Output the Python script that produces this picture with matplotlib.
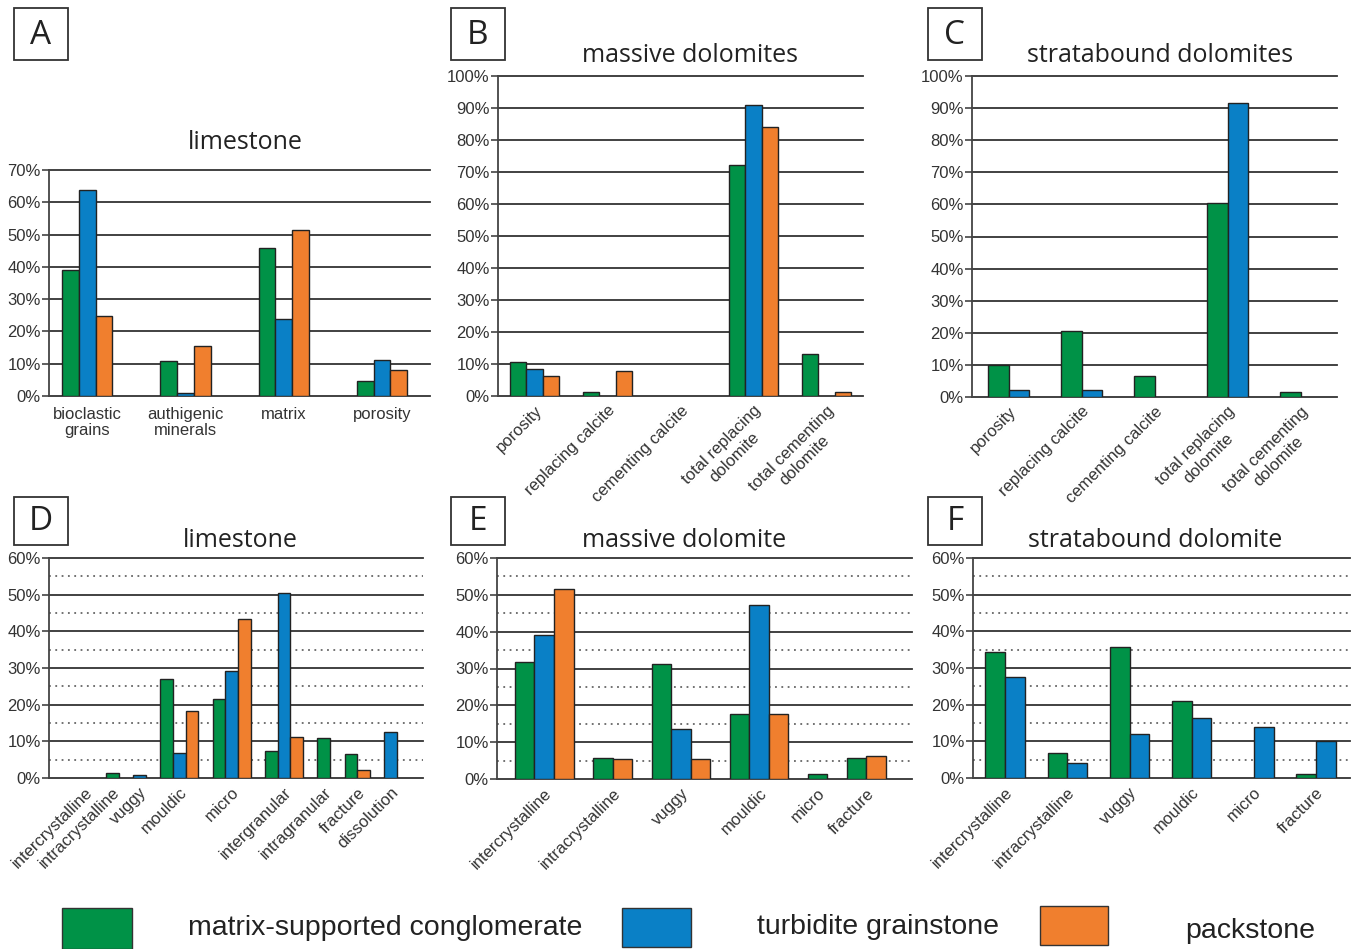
import numpy as np
import matplotlib.pyplot as plt
from matplotlib.patches import Rectangle

plt.rcParams['font.family'] = ['Liberation Sans', 'DejaVu Sans']

FIG_W, FIG_H = 1359, 949

series_names = ['matrix-supported conglomerate', 'turbidite grainstone', 'packstone']
colors = ['#009247', '#0a80c6', '#f07f2e']

# A - limestone composition
a_labels = ['bioclastic\ngrains', 'authigenic\nminerals', 'matrix', 'porosity']
a_matrix = [39, 10.7, 45.7, 4.6]
a_turbidite = [63.9, 1, 23.9, 11.3]
a_packstone = [24.7, 15.5, 51.3, 7.9]

# B - massive dolomites composition
b_labels = ['porosity', 'replacing calcite', 'cementing calcite',
            'total replacing\ndolomite', 'total cementing\ndolomite']
b_matrix = [10.7, 1.2, 0, 72.1, 13.1]
b_turbidite = [8.3, 0, 0, 90.8, 0]
b_packstone = [6.2, 7.8, 0, 84.1, 1.2]

# C - stratabound dolomites composition
c_labels = b_labels
c_matrix = [10.1, 20.5, 6.5, 60.5, 1.5]
c_turbidite = [2.1, 2.3, 0, 91.7, 0]

# D - limestone pore types
d_labels = ['intercrystalline', 'intracrystalline', 'vuggy', 'mouldic', 'micro',
            'intergranular', 'intragranular', 'fracture', 'dissolution']
d_matrix = [0, 1.3, 0, 26.9, 21.5, 7.5, 10.9, 6.6, 0]
d_turbidite = [0, 0, 0.7, 6.9, 29.3, 50.5, 0, 0, 12.5]
d_packstone = [0, 0, 0, 18.3, 43.3, 11.1, 0, 2.3, 0]

# E - massive dolomite pore types
e_labels = ['intercrystalline', 'intracrystalline', 'vuggy', 'mouldic', 'micro', 'fracture']
e_matrix = [31.7, 5.6, 31.3, 17.6, 1.4, 5.7]
e_turbidite = [39.1, 0, 13.6, 47.2, 0, 0]
e_packstone = [51.5, 5.3, 5.5, 17.6, 0, 6.3]

# F - stratabound dolomite pore types
f_labels = e_labels
f_matrix = [34.5, 6.9, 35.8, 20.9, 0, 1.2]
f_turbidite = [27.5, 4.0, 12.0, 16.3, 13.8, 10.2]

fig = plt.figure(figsize=(FIG_W / 100, FIG_H / 100), dpi=100)


def px_axes(left, top, right, bottom):
    return fig.add_axes([left / FIG_W, 1 - bottom / FIG_H,
                         (right - left) / FIG_W, (bottom - top) / FIG_H])


def style_axes(ax, ymax, dotted=False):
    ax.set_facecolor('none')
    ax.set_ylim(0, ymax)
    for s in ['top', 'right', 'bottom']:
        ax.spines[s].set_visible(False)
    ax.spines['left'].set_color('#444')
    ax.spines['left'].set_linewidth(1.3)
    ticks = np.arange(0, ymax + 1, 10)
    ax.set_yticks(ticks)
    ax.set_yticklabels([f'{t:.0f}%' for t in ticks])
    ax.tick_params(axis='y', length=5, width=1.2, color='#444', labelsize=12,
                   pad=1, labelcolor='#333')
    ax.tick_params(axis='x', length=0, labelsize=12, labelcolor='#333')
    for t in ticks:
        ax.axhline(t, color='#333', lw=1.3, zorder=0.5, clip_on=False)
    if dotted:
        for t in np.arange(5, ymax, 10):
            ax.axhline(t, color='#666', lw=1.3, ls=(0, (1, 2.5)), zorder=0.5)


def grouped_bars(ax, values, width):
    x = np.arange(len(values[0]))
    m = len(values)
    for k, vals in enumerate(values):
        vals = np.asarray(vals, dtype=float)
        keep = vals > 0
        ax.bar(x[keep] + (k - (m - 1) / 2) * width, vals[keep], width,
               color=colors[k], edgecolor='#222', lw=1, zorder=2)
    return x


def packed_bars(ax, values, gap):
    # empty series are left out, so every group only takes room for its own bars
    vals = np.asarray(values, dtype=float)
    centers = []
    pos = 0.0
    for j in range(vals.shape[1]):
        present = [k for k in range(len(vals)) if vals[k, j] > 0]
        for i, k in enumerate(present):
            ax.bar(pos + i + 0.5, vals[k, j], 1.0, color=colors[k],
                   edgecolor='#222', lw=1, zorder=2)
        n = max(len(present), 1)
        centers.append(pos + n / 2)
        pos += n + gap
    return np.array(centers), pos - gap


def rotated_labels(ax, x, labels):
    ax.set_xticks(x)
    ax.set_xticklabels(labels, rotation=45, ha='right', va='top',
                       rotation_mode='anchor', multialignment='center')
    ax.tick_params(axis='x', pad=5)


# A
ax = px_axes(49, 170, 430, 396)
style_axes(ax, 70)
x = grouped_bars(ax, [a_matrix, a_turbidite, a_packstone], 0.17)
ax.set_xlim(-0.39, 3.49)
ax.set_xticks(x)
ax.set_xticklabels(a_labels, linespacing=1.05)
ax.tick_params(axis='x', pad=8)

# B
ax = px_axes(498, 76, 863, 396)
style_axes(ax, 100)
x = grouped_bars(ax, [b_matrix, b_turbidite, b_packstone], 0.22)
ax.set_xlim(-0.5, 4.5)
rotated_labels(ax, x, b_labels)

# C
ax = px_axes(972, 76, 1337, 397)
style_axes(ax, 100)
x = grouped_bars(ax, [c_matrix, c_turbidite], 0.28)
ax.set_xlim(-0.5, 4.5)
rotated_labels(ax, x, c_labels)

# D
ax = px_axes(49, 558, 423, 778)
style_axes(ax, 60, dotted=True)
x, end = packed_bars(ax, [d_matrix, d_turbidite, d_packstone], 1.13)
ax.set_xlim(-2.36, end + 2.05)
rotated_labels(ax, x, d_labels)

# E
ax = px_axes(497, 558, 912, 779)
style_axes(ax, 60, dotted=True)
x, end = packed_bars(ax, [e_matrix, e_turbidite, e_packstone], 1.0)
ax.set_xlim(-0.92, end + 1.33)
rotated_labels(ax, x, e_labels)

# F
ax = px_axes(973, 558, 1350, 778)
style_axes(ax, 60, dotted=True)
x = grouped_bars(ax, [f_matrix, f_turbidite], 0.32)
ax.set_xlim(-0.52, 5.55)
rotated_labels(ax, x, f_labels)


def fig_text(x, y, s, **kw):
    fig.text(x / FIG_W, 1 - y / FIG_H, s, **kw)


# panel titles
titles = [('limestone', 245, 149), ('massive dolomites', 690, 62),
          ('stratabound dolomites', 1160, 62), ('limestone', 240, 547),
          ('massive dolomite', 684, 547), ('stratabound dolomite', 1155, 547)]
for s, x0, y0 in titles:
    fig_text(x0, y0, s, ha='center', va='baseline', fontsize=18,
             family=['Open Sans', 'DejaVu Sans'], color='#222')

# panel letters in boxes
letters = [('A', 14, 8, 68, 60), ('B', 451, 8, 505, 60), ('C', 928, 8, 982, 60),
           ('D', 14, 497, 68, 545), ('E', 451, 497, 505, 545), ('F', 928, 497, 982, 545)]
for s, l, t, r, b in letters:
    fig.patches.append(Rectangle((l / FIG_W, 1 - b / FIG_H), (r - l) / FIG_W, (b - t) / FIG_H,
                                 transform=fig.transFigure, fill=False,
                                 edgecolor='#333', lw=1.3))
    fig_text((l + r) / 2, (t + b) / 2 + 1, s, ha='center', va='center', fontsize=24,
             family=['Open Sans', 'DejaVu Sans'], color='#222')

# legend along the bottom
legend_boxes = [(62, 908, 132, 949), (622, 908, 691, 947), (1040, 906, 1108, 945)]
legend_text = [(188, 928), (757, 927), (1185, 931)]
for k, name in enumerate(series_names):
    l, t, r, b = legend_boxes[k]
    fig.patches.append(Rectangle((l / FIG_W, 1 - b / FIG_H), (r - l) / FIG_W, (b - t) / FIG_H,
                                 transform=fig.transFigure, facecolor=colors[k],
                                 edgecolor='#333', lw=1))
    tx, ty = legend_text[k]
    fig_text(tx, ty, name, ha='left', va='center', fontsize=20.5, color='#222')

fig.savefig('out.png', dpi=100)
